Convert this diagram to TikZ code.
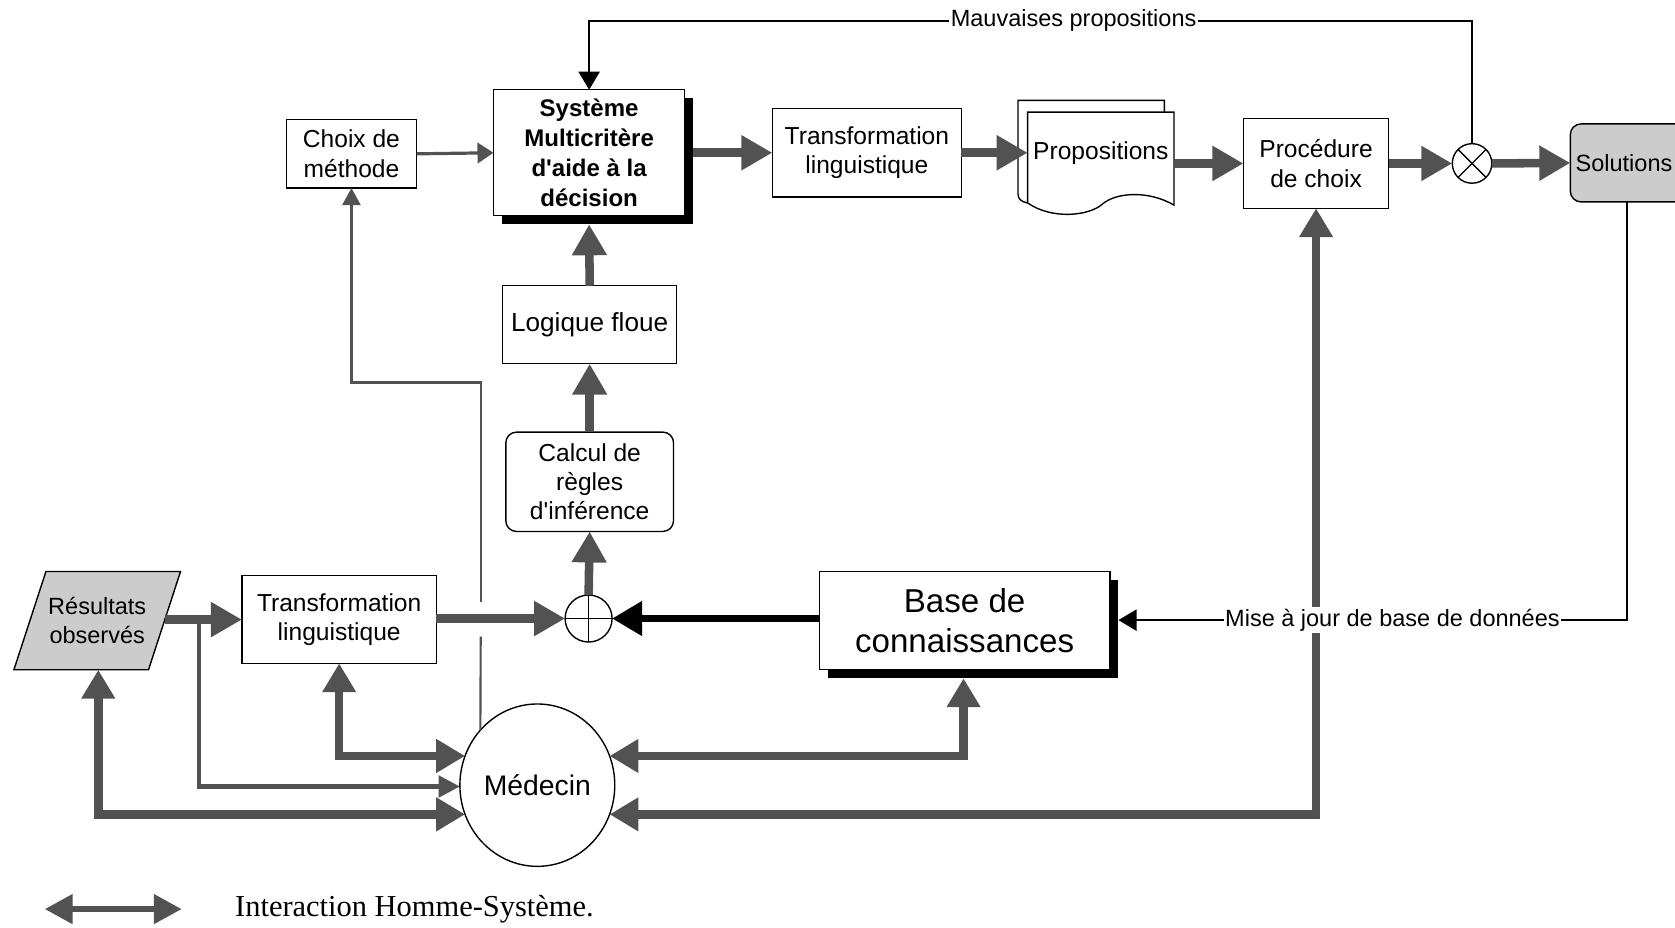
\documentclass[tikz,border=0pt]{standalone}
\usepackage{fontspec}
\setmainfont{Liberation Sans}
\newfontfamily\legendfont{Liberation Serif}
\usetikzlibrary{arrows.meta,calc,shapes.geometric,shadows}
\definecolor{pat}{gray}{0.32}
\definecolor{patfill}{gray}{0.8}
\tikzset{
  every node/.style={font=\fontsize{23}{27.5}\selectfont},
  box/.style={draw, line width=1.3pt, fill=white, inner sep=0pt, outer sep=0pt, align=center},
  blackshadow/.style={drop shadow={shadow xshift=8pt, shadow yshift=-8pt, fill=black, opacity=1}},
  bigarrow/.style={draw=pat, line width=8pt, -{Triangle[length=29pt,width=31pt]}},
  dblarrow/.style={draw=pat, line width=8pt, line join=miter, {Triangle[length=27pt,width=30pt]}-{Triangle[length=27pt,width=30pt]}},
  legarrow/.style={draw=pat, line width=5pt, {Triangle[length=26pt,width=27pt]}-{Triangle[length=26pt,width=27pt]}},
  blackarrow/.style={draw=black, line width=6.5pt, -{Triangle[length=28pt,width=31pt]}},
  thinarrow/.style={draw=pat, line width=3pt, -{Triangle[length=15pt,width=19pt]}},
  brancharrow/.style={draw=pat, line width=4pt, line join=miter, -{Triangle[length=20pt,width=20pt]}},
  medline/.style={draw=pat, line width=2pt},
  fbline/.style={draw=black, line width=1.3pt},
  fbarrow/.style={fbline, -{Triangle[length=17pt,width=20pt]}},
  lbl/.style={fill=white, inner xsep=1.5pt, inner ysep=2pt, outer sep=0pt, font=\fontsize{22}{26}\selectfont},
  symb/.style={draw, circle, line width=1.3pt, fill=white, inner sep=0pt, outer sep=0pt},
}
\begin{document}
\begin{tikzpicture}[x=1pt,y=-1pt]
\useasboundingbox (0,0) rectangle (1568,868);
\clip (0,0) rectangle (1568,868);

% ---------- boxes ----------
\node[box, blackshadow, minimum width=179, minimum height=118,
      font=\bfseries\fontsize{22.5}{28}\selectfont] (sys) at (551.5,143)
      {Système\\Multicritère\\d\textquotesingle aide à la\\décision};
\node[box, minimum width=122, minimum height=64] (choix) at (329,144) {Choix de\\méthode};
\node[box, minimum width=177, minimum height=83] (transT) at (811.5,143) {Transformation\\linguistique};

% Propositions (document shape)
\draw[line width=1.3pt, fill=white] (962,190) .. controls (956,189) and (953,186) .. (953,182) -- (953,94) -- (1090,94) -- (1090,105);
\draw[line width=1.3pt, fill=white] (962,105) -- (1099,105) -- (1099,192)
  .. controls (1075,178) and (1045,180) .. (1032,191)
  .. controls (1020,202) and (985,206) .. (962,190) -- cycle;
\node[minimum width=137, minimum height=40, inner sep=0pt, outer sep=0pt] (props) at (1030.5,143) {Propositions};

\node[box, minimum width=136, minimum height=84] (proc) at (1232,153) {Procédure\\de choix};
\node[symb, minimum size=37] (otimes) at (1378,153) {};
\draw[line width=1.3pt] (otimes.45) -- (otimes.225) (otimes.135) -- (otimes.-45);
\node[box, rounded corners=10pt, fill=patfill, minimum height=73, text width=105,
      inner xsep=5pt, align=left, anchor=west, font=\fontsize{22}{26}\selectfont] (sol) at (1470,152.5) {Solutions};

\node[box, minimum width=163, minimum height=73, font=\fontsize{24.5}{28}\selectfont] (logique) at (552,304) {Logique floue};
\node[box, rounded corners=10pt, minimum width=157, minimum height=93] (calcul) at (552,451) {Calcul de\\règles\\d\textquotesingle inférence};
\node[symb, minimum size=44] (oplus) at (551,579) {};
\draw[line width=1.3pt] (oplus.north) -- (oplus.south) (oplus.west) -- (oplus.east);

\node[box, blackshadow, minimum width=272, minimum height=92,
      font=\fontsize{31}{38}\selectfont] (base) at (903,581) {Base de\\connaissances};
\node[box, minimum width=182, minimum height=82] (transB) at (317.5,580) {Transformation\\linguistique};

% Résultats observés (parallelogram)
\draw[line width=1.3pt, fill=patfill] (43,535) -- (169,535) -- (139,627) -- (13,627) -- cycle;
\node[align=center, inner sep=0pt, font=\fontsize{22}{27}\selectfont] (res) at (91,581) {Résultats\\observés};
\coordinate (resR) at (154,580);
\coordinate (resB) at (92,627);

\node[draw, ellipse, line width=1.3pt, minimum width=145, minimum height=152, inner sep=0pt,
      outer sep=0pt, font=\fontsize{26.5}{30}\selectfont] (med) at (503,735) {Médecin};

% ---------- helper coordinates ----------
\coordinate (sysE) at ($(sys.east)+(8,0)$);
\coordinate (sysS) at ($(sys.south)+(0,8)$);
\coordinate (baseS) at ($(base.south)+(-1,8)$);
\coordinate (baseE) at ($(base.east)+(8,0)$);
\coordinate (solB) at (1523,189);
\coordinate (branch) at (186,582);
\coordinate (gapT) at (450,564);
\coordinate (gapB) at (450,596);

% ---------- thin grey connections ----------
\draw[medline, {Triangle[length=16pt,width=17pt]}-] (choix.south) -- ++(0,182) -| (gapT);
\draw[medline] (gapB) -- (med.136);
\draw[thinarrow] (choix.east) -- (sys.west);
\draw[brancharrow] (branch) |- (med.181);

% ---------- thick flow arrows ----------
\draw[bigarrow] (sysE) -- (transT.west);
\draw[bigarrow] (transT.east) -- (props.west);
\draw[bigarrow] (props.east |- proc.west) -- (proc.west);
\draw[bigarrow] (proc.east) -- (otimes.west);
\draw[bigarrow] (otimes.east) -- (sol.west);
\draw[bigarrow] (logique.north) -- (sysS);
\draw[bigarrow] (calcul.north) -- (logique.south);
\draw[bigarrow] (oplus.north) -- (calcul.south);
\draw[bigarrow] (transB.east |- oplus.west) -- (oplus.west);
\draw[bigarrow] (resR) -- (transB.west);
\draw[blackarrow] (base.west |- oplus.east) -- (oplus.east);

% ---------- interactions with Médecin ----------
\draw[dblarrow] (transB.south) |- (med.158);
\draw[dblarrow] (resB) |- (med.202);
\draw[dblarrow] (baseS) |- (med.22);
\draw[dblarrow] (proc.south) |- (med.-22);

% ---------- feedback lines ----------
\node[lbl] (mauv) at (1005,19.5) {Mauvaises propositions};
\draw[fbline] (otimes.north) |- (mauv.east);
\draw[fbarrow] (mauv.west) -| (sys.north);

\node[lbl] (maj) at (1303.5,580.5) {Mise à jour de base de données};
\draw[fbline] (solB) |- (maj.east);
\draw[fbarrow] (maj.west) -- (maj.west -| baseE);

% ---------- legend ----------
\coordinate (legA) at (42,851);
\coordinate (legB) at (170,851);
\draw[legarrow] (legA) -- (legB);
\node[anchor=west, inner sep=0pt, font=\legendfont\fontsize{28.5}{32}\selectfont] (legtxt) at (220,851) {Interaction Homme-Système.};
\end{tikzpicture}
\end{document}
